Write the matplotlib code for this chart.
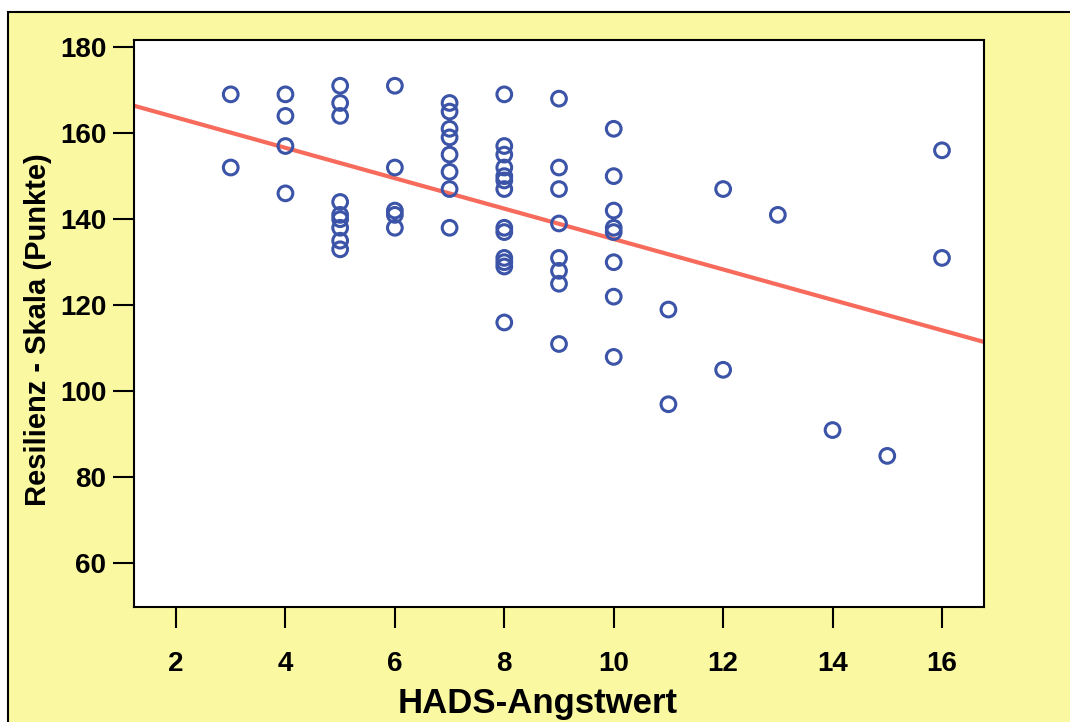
import numpy as np
import matplotlib
matplotlib.use("Agg")
import matplotlib.pyplot as plt
from matplotlib.patches import Rectangle

# HADS anxiety score vs. resilience scale score
hads = [3, 3,
        4, 4, 4, 4,
        5, 5, 5, 5, 5, 5, 5, 5, 5,
        6, 6, 6, 6, 6,
        7, 7, 7, 7, 7, 7, 7, 7,
        8, 8, 8, 8, 8, 8, 8, 8, 8, 8, 8, 8, 8,
        9, 9, 9, 9, 9, 9, 9, 9,
        10, 10, 10, 10, 10, 10, 10, 10,
        11, 11,
        12, 12,
        13,
        14,
        15,
        16, 16]
resilienz = [169, 152,
             169, 164, 157, 146,
             171, 167, 164, 144, 141, 140, 138, 135, 133,
             171, 152, 142, 141, 138,
             167, 165, 161, 159, 155, 151, 147, 138,
             169, 157, 155, 152, 150, 149, 147, 138, 137, 131, 130, 129, 116,
             168, 152, 147, 139, 131, 128, 125, 111,
             161, 150, 142, 138, 137, 130, 122, 108,
             119, 97,
             147, 105,
             141,
             91,
             85,
             156, 131]

x_ticks = [2, 4, 6, 8, 10, 12, 14, 16]
y_ticks = [60, 80, 100, 120, 140, 160, 180]

W, H = 1070, 722
plt.rcParams["font.family"] = ["Liberation Sans", "DejaVu Sans"]

fig = plt.figure(figsize=(W / 100, H / 100), dpi=100)
fig.patch.set_facecolor("white")

# yellow panel behind the plot
panel = Rectangle((8 / W, -0.1), 1.2, 1.1 - 12 / H, transform=fig.transFigure,
                  facecolor="#FAF8A0", edgecolor="black", linewidth=1.5,
                  zorder=-10)
fig.patches.append(panel)

ax = fig.add_axes([134 / W, (H - 607) / H, 850 / W, 567 / H])
ax.set_zorder(1)
ax.set_facecolor("white")

ax.scatter(hads, resilienz, s=112, facecolors="none", edgecolors="#3B54A8",
           linewidths=2.2, zorder=3)

# least-squares line
slope, intercept = np.polyfit(hads, resilienz, 1)
xl = np.array([1.232, 16.768])
ax.plot(xl, intercept + slope * xl, color="#F66B5C", linewidth=3.0,
        zorder=2, solid_capstyle="butt")

ax.set_xlim(1.232, 16.768)
ax.set_ylim(49.89, 181.63)
ax.set_xticks(x_ticks)
ax.set_yticks(y_ticks)
ax.tick_params(axis="both", direction="out", length=15, width=1.5,
               labelsize=20)
ax.tick_params(axis="x", pad=17)
ax.tick_params(axis="y", pad=5)
for lab in ax.get_xticklabels() + ax.get_yticklabels():
    lab.set_fontweight("bold")
for sp in ax.spines.values():
    sp.set_linewidth(1.5)

fig.text(538 / W, 1 - 703 / H, "HADS-Angstwert", ha="center", va="center",
         fontsize=25, fontweight="bold")
fig.text(38 / W, 1 - 330 / H, "Resilienz - Skala (Punkte)", ha="center",
         va="center", rotation=90, fontsize=21, fontweight="bold")

fig.savefig("out.png", dpi=100)
